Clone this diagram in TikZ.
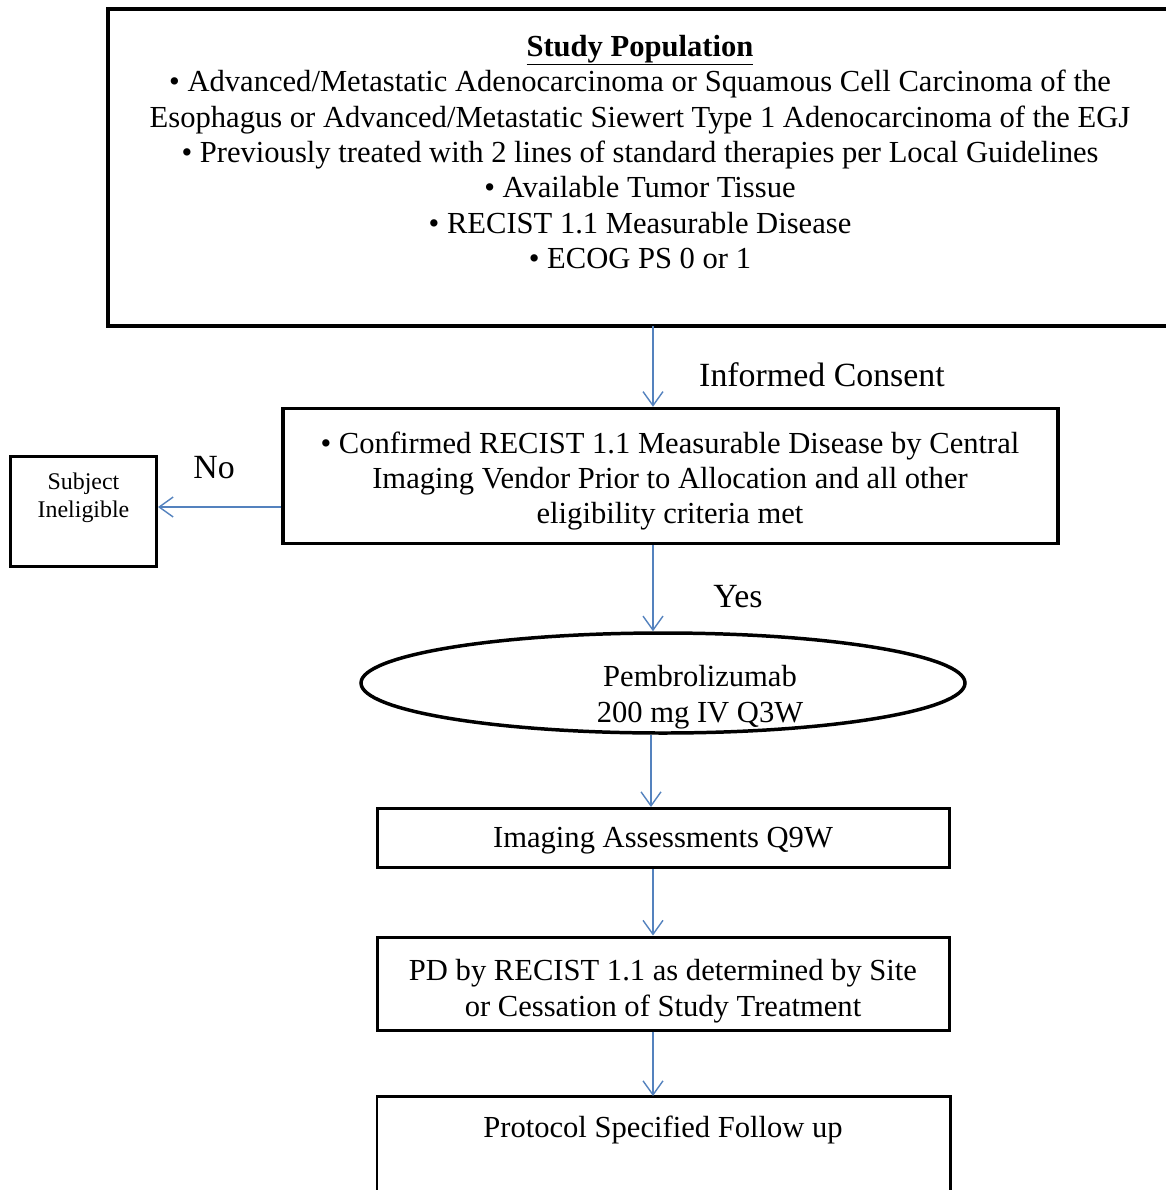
\documentclass[tikz,border=0pt]{standalone}
\usepackage{fontspec}
\setmainfont{Liberation Serif}
\usetikzlibrary{arrows.meta,shapes.geometric}
\definecolor{arrblue}{RGB}{84,130,190}
\tikzset{
  box/.style={draw=black,line width=3.5pt,inner sep=0pt},
  txt/.style={align=center,font=\fontsize{30.7}{35.5}\selectfont,inner sep=0pt},
  lbl/.style={align=center,font=\fontsize{34}{40}\selectfont,inner sep=0pt},
  small/.style={align=center,font=\fontsize{24}{28}\selectfont,inner sep=0pt},
  flow/.style={draw=arrblue,line width=1.4pt,-{Straight Barb[length=14pt,width=20pt,line width=1.4pt]}},
}
\begin{document}
\begin{tikzpicture}[x=1bp,y=-1bp]
\clip (0,0) rectangle (1166,1190);
\fill[white] (0,0) rectangle (1166,1190);
% boxes
\draw[box] (108,9) rectangle (1175,326);
\node[box,minimum width=775bp,minimum height=135bp] (elig) at (670.5,476) {};
\node[box,line width=3pt,minimum width=146bp,minimum height=110bp] (inel) at (83.5,511) {};
\node[draw=black,line width=3.5pt,ellipse,minimum width=604bp,minimum height=100bp,inner sep=0pt] (pem) at (663,683) {};
\node[box,line width=3pt,minimum width=572bp,minimum height=59bp] (img) at (663.5,838) {};
\node[box,line width=3pt,minimum width=572bp,minimum height=93bp] (pd) at (663.5,983.5) {};
\draw[box,line width=3pt] (377,1200) |- (950,1096) -- (950,1200);
\coordinate (fu) at (653,1096);
\coordinate (top) at (653,326);
% texts
\node[txt] (pop) at (640,152) {\underline{\textbf{Study Population}}\\
• Advanced/Metastatic Adenocarcinoma or Squamous Cell Carcinoma of the\\
Esophagus or Advanced/Metastatic Siewert Type 1 Adenocarcinoma of the EGJ\\
• Previously treated with 2 lines of standard therapies per Local Guidelines\\
• Available Tumor Tissue\\
• RECIST 1.1 Measurable Disease\\
• ECOG PS 0 or 1};
\node[txt] (eligt) at (670,481) {• Confirmed RECIST 1.1 Measurable Disease by Central\\
Imaging Vendor Prior to Allocation and all other\\
eligibility criteria met};
\node[small] (inelt) at (83.5,498) {Subject\\Ineligible};
\node[txt] (pemt) at (700,697) {Pembrolizumab\\200 mg IV Q3W};
\node[txt] (imgt) at (663,841) {Imaging Assessments Q9W};
\node[txt] (pdt) at (663,991) {PD by RECIST 1.1 as determined by Site\\or Cessation of Study Treatment};
\node[txt] (fut) at (663,1130) {Protocol Specified Follow up};
\node[lbl] (ic) at (822,375) {Informed Consent};
\node[lbl] (no) at (214,468) {No};
\node[lbl] (yes) at (738,597) {Yes};
% connectors
\draw[flow] (top) -- (elig.north -| top);
\draw[flow] (elig.west |- 0,507) -- (inel.east |- 0,507);
\draw[flow] (elig.south -| top) -- (pem.north -| top);
\draw[flow] (pem.south -| 651,0) -- (img.north -| 651,0);
\draw[flow] (img.south -| top) -- (pd.north -| top);
\draw[flow] (pd.south -| top) -- (fu);
\end{tikzpicture}
\end{document}
